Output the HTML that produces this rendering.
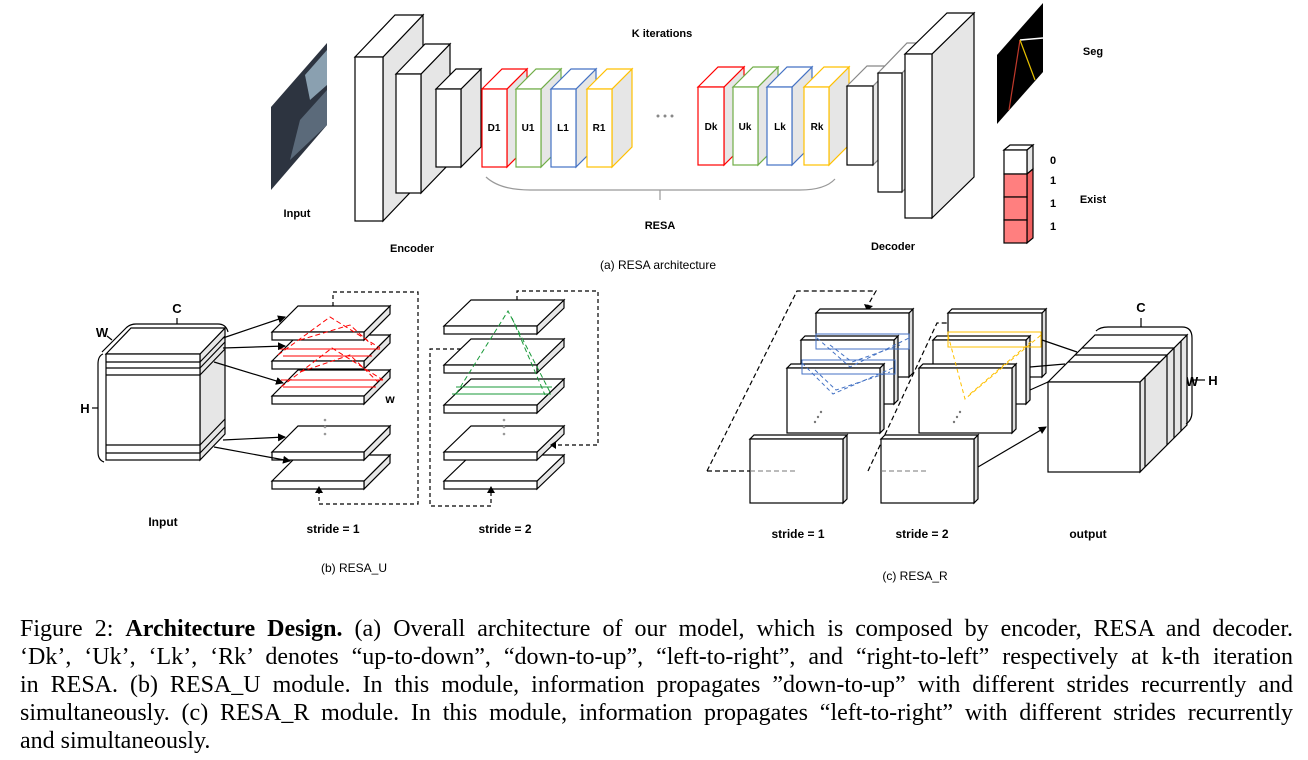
<!DOCTYPE html>
<html><head><meta charset="utf-8"><style>
body{margin:0;background:#fff;}
#w{position:relative;width:1308px;height:760px;overflow:hidden;background:#fff;}
svg{position:absolute;left:0;top:0;}
.cap{position:absolute;left:20px;width:1273px;font-family:"Liberation Serif",serif;font-size:24px;line-height:28px;text-align:justify;text-align-last:justify;white-space:nowrap;}
.cap.l{text-align-last:left;}
</style></head><body><div id="w">
<svg width="1308" height="600" viewBox="0 0 1308 600" font-family="Liberation Sans, sans-serif">
<defs><marker id="a" markerWidth="8" markerHeight="8" refX="7" refY="4" orient="auto" markerUnits="userSpaceOnUse"><path d="M0,0L8,4L0,8z" fill="#000"/></marker></defs>
<g stroke-width="1.2">
<polygon points="271,107 327,43 327,125 271,190" fill="#2d3440"/>
<polygon points="300,120 327,90 327,125 290,160" fill="#5b6a7a"/>
<polygon points="305,75 327,50 327,85 310,100" fill="#8aa0b0"/>
<g stroke="#000" fill="#fff">
<polygon points="383,57 423,15 423,179 383,221" fill="#e6e6e6"/><polygon points="355,57 395,15 423,15 383,57"/><rect x="355" y="57" width="28" height="164"/>
<polygon points="421,74 450,44 450,163 421,193" fill="#e6e6e6"/><polygon points="396,74 425,44 450,44 421,74"/><rect x="396" y="74" width="25" height="119"/>
<polygon points="461,89 481,69 481,147 461,167" fill="#e6e6e6"/><polygon points="436,89 456,69 481,69 461,89"/><rect x="436" y="89" width="25" height="78"/>
</g>
<g fill="#fff">
<g stroke="#f00"><polygon points="507,89 527,69 527,147 507,167" fill="#e6e6e6"/><polygon points="482,89 502,69 527,69 507,89"/><rect x="482" y="89" width="25" height="78"/></g>
<g stroke="#70ad47"><polygon points="541,89 561,69 561,147 541,167" fill="#e6e6e6"/><polygon points="516,89 536,69 561,69 541,89"/><rect x="516" y="89" width="25" height="78"/></g>
<g stroke="#4472c4"><polygon points="576,89 596,69 596,147 576,167" fill="#e6e6e6"/><polygon points="551,89 571,69 596,69 576,89"/><rect x="551" y="89" width="25" height="78"/></g>
<g stroke="#ffc000"><polygon points="612,89 632,69 632,147 612,167" fill="#e6e6e6"/><polygon points="587,89 607,69 632,69 612,89"/><rect x="587" y="89" width="25" height="78"/></g>
<g stroke="#f00"><polygon points="724,87 744,67 744,145 724,165" fill="#e6e6e6"/><polygon points="698,87 718,67 744,67 724,87"/><rect x="698" y="87" width="26" height="78"/></g>
<g stroke="#70ad47"><polygon points="758,87 778,67 778,145 758,165" fill="#e6e6e6"/><polygon points="733,87 753,67 778,67 758,87"/><rect x="733" y="87" width="25" height="78"/></g>
<g stroke="#4472c4"><polygon points="792,87 812,67 812,145 792,165" fill="#e6e6e6"/><polygon points="767,87 787,67 812,67 792,87"/><rect x="767" y="87" width="25" height="78"/></g>
<g stroke="#ffc000"><polygon points="829,87 849,67 849,145 829,165" fill="#e6e6e6"/><polygon points="804,87 824,67 849,67 829,87"/><rect x="804" y="87" width="25" height="78"/></g>
</g>
<g stroke="#000" fill="#fff">
<polygon points="873,86 893,66 893,145 873,165" fill="#e6e6e6" stroke="#888"/><polygon points="847,86 867,66 893,66 873,86" stroke="#888"/><rect x="847" y="86" width="26" height="79"/>
<polygon points="902,73 931,43 931,162 902,192" fill="#e6e6e6" stroke="#888"/><polygon points="878,73 907,43 931,43 902,73" stroke="#888"/><rect x="878" y="73" width="24" height="119"/>
<polygon points="932,54 974,13 974,177 932,218" fill="#e6e6e6"/><polygon points="905,54 947,13 974,13 932,54"/><rect x="905" y="54" width="27" height="164"/>
</g>
<polygon points="997,55 1043,3 1043,72 997,124" fill="#000"/>
<line x1="1020" y1="40" x2="1043" y2="38" stroke="#fff" stroke-width="1.5"/>
<line x1="1020" y1="40" x2="1009" y2="110" stroke="#c0392b"/>
<line x1="1020" y1="40" x2="1035" y2="80" stroke="#e6c000"/>
<g stroke="#000">
<polygon points="1004,150 1010,145 1033,145 1027,150" fill="#fff"/>
<polygon points="1027,150 1033,145 1033,169 1027,174" fill="#e6e6e6"/>
<polygon points="1027,174 1033,169 1033,238 1027,243" fill="#f06060"/>
<rect x="1004" y="150" width="23" height="24" fill="#fff"/>
<rect x="1004" y="174" width="23" height="23" fill="#ff7f7f"/>
<rect x="1004" y="197" width="23" height="23" fill="#ff7f7f"/>
<rect x="1004" y="220" width="23" height="23" fill="#ff7f7f"/>
</g>
<path d="M486,177 Q500,190 530,190 L800,190 Q825,190 835,179" fill="none" stroke="#999"/>
<line x1="660" y1="190" x2="660" y2="200" stroke="#999"/>
<g fill="#888"><circle cx="658" cy="116" r="1.5"/><circle cx="665" cy="116" r="1.5"/><circle cx="672" cy="116" r="1.5"/></g>
</g>
<g font-size="10" font-weight="bold" text-anchor="middle">
<text x="494" y="131">D1</text><text x="528" y="131">U1</text><text x="563" y="131">L1</text><text x="599" y="131">R1</text>
<text x="711" y="130">Dk</text><text x="745" y="130">Uk</text><text x="780" y="130">Lk</text><text x="817" y="130">Rk</text>
</g>
<g font-size="11" font-weight="bold" text-anchor="middle">
<text x="662" y="37">K iterations</text><text x="297" y="217">Input</text><text x="412" y="252">Encoder</text>
<text x="660" y="229">RESA</text><text x="893" y="250">Decoder</text><text x="1093" y="55">Seg</text><text x="1093" y="203">Exist</text>
<text x="1053" y="164">0</text><text x="1053" y="184">1</text><text x="1053" y="207">1</text><text x="1053" y="230">1</text>
</g>
<text x="658" y="269" font-size="12" text-anchor="middle">(a) RESA architecture</text>

<g stroke="#000" stroke-width="1.2" fill="#fff">
<polygon points="200,354 225,328 225,434 200,460" fill="#e6e6e6"/>
<polygon points="106,354 131,328 225,328 200,354"/>
<rect x="106" y="354" width="94" height="106"/>
<g fill="none">
<line x1="106" y1="362" x2="200" y2="362"/><line x1="106" y1="368" x2="200" y2="368"/><line x1="106" y1="375" x2="200" y2="375"/>
<line x1="106" y1="445" x2="200" y2="445"/><line x1="106" y1="453" x2="200" y2="453"/>
<line x1="200" y1="362" x2="225" y2="336"/><line x1="200" y1="368" x2="225" y2="342"/><line x1="200" y1="375" x2="225" y2="349"/>
<line x1="200" y1="445" x2="225" y2="419"/><line x1="200" y1="453" x2="225" y2="427"/>
<path d="M102,352 L126,328 Q130,324 136,324 L218,324 Q226,324 228,332"/>
<line x1="177" y1="324" x2="177" y2="318"/>
<path d="M103,354 Q98,356 98,364 L98,452 Q98,460 104,462"/>
<line x1="98" y1="408" x2="92" y2="408"/>
<line x1="112" y1="340" x2="107" y2="336"/>
</g>
</g>
<g font-size="13" font-weight="bold" text-anchor="middle"><text x="102" y="337">W</text><text x="177" y="313">C</text><text x="85" y="413">H</text><text x="390" y="403" font-size="12">w</text></g>
<g stroke="#000" stroke-width="1.2" fill="#fff">
<polygon points="364,481 390,455 390,463 364,489" fill="#e6e6e6"/><polygon points="272,481 298,455 390,455 364,481"/><rect x="272" y="481" width="92" height="8"/>
<polygon points="364,452 390,426 390,434 364,460" fill="#e6e6e6"/><polygon points="272,452 298,426 390,426 364,452"/><rect x="272" y="452" width="92" height="8"/>
<polygon points="364,396 390,370 390,378 364,404" fill="#e6e6e6"/><polygon points="272,396 298,370 390,370 364,396"/><rect x="272" y="396" width="92" height="8"/>
<polygon points="364,361 390,335 390,343 364,369" fill="#e6e6e6"/><polygon points="272,361 298,335 390,335 364,361"/><rect x="272" y="361" width="92" height="8"/>
<polygon points="364,332 390,306 390,314 364,340" fill="#e6e6e6"/><polygon points="272,332 298,306 390,306 364,332"/><rect x="272" y="332" width="92" height="8"/>
<polygon points="537,481 564,455 564,463 537,489" fill="#e6e6e6"/><polygon points="444,481 471,455 564,455 537,481"/><rect x="444" y="481" width="93" height="8"/>
<polygon points="537,452 564,426 564,434 537,460" fill="#e6e6e6"/><polygon points="444,452 471,426 564,426 537,452"/><rect x="444" y="452" width="93" height="8"/>
<polygon points="537,405 564,379 564,387 537,413" fill="#e6e6e6"/><polygon points="444,405 471,379 564,379 537,405"/><rect x="444" y="405" width="93" height="8"/>
<polygon points="537,365 564,339 564,347 537,373" fill="#e6e6e6"/><polygon points="444,365 471,339 564,339 537,365"/><rect x="444" y="365" width="93" height="8"/>
<polygon points="537,326 564,300 564,308 537,334" fill="#e6e6e6"/><polygon points="444,326 471,300 564,300 537,326"/><rect x="444" y="326" width="93" height="8"/>
</g>
<g stroke="#f00" fill="none" stroke-width="1">
<path d="M278,355 L330,317 L380,348" stroke-dasharray="5,3"/><path d="M300,340 L350,325 L372,345" stroke-dasharray="5,3"/>
<line x1="278" y1="349" x2="380" y2="349"/><line x1="283" y1="356" x2="372" y2="356"/>
<path d="M281,387 L332,348 L383,380" stroke-dasharray="5,3"/><path d="M300,372 L350,355 L378,382" stroke-dasharray="5,3"/>
<line x1="281" y1="380" x2="383" y2="380"/><line x1="283" y1="387" x2="376" y2="387"/>
</g>
<g stroke="#1a9a3a" fill="none" stroke-width="1">
<path d="M456,394 L508,311 L551,394" stroke-dasharray="5,3"/><path d="M512,318 L545,395" stroke-dasharray="5,3"/>
<line x1="456" y1="387" x2="552" y2="387"/><line x1="452" y1="394" x2="551" y2="394"/>
</g>
<g stroke="#000" stroke-width="1.2" fill="none">
<line x1="223" y1="338" x2="285" y2="317" marker-end="url(#a)"/>
<line x1="223" y1="348" x2="285" y2="346" marker-end="url(#a)"/>
<line x1="214" y1="362" x2="283" y2="383" marker-end="url(#a)"/>
<line x1="223" y1="440" x2="285" y2="437" marker-end="url(#a)"/>
<line x1="214" y1="447" x2="290" y2="461" marker-end="url(#a)"/>
<g stroke-dasharray="4,3">
<path d="M333,306 L333,292 L418,292 L418,504 L319,504 L319,493"/>
<path d="M517,300 L517,291 L598,291 L598,445 L556,445"/>
<path d="M461,349 L430,349 L430,506 L491,506 L491,493"/>
</g>
</g>
<g fill="#000"><path d="M315,493 L319,486 L323,493z"/><path d="M487,493 L491,486 L495,493z"/><path d="M556,441 L550,445 L556,449z"/></g>
<g fill="#999"><circle cx="325" cy="420" r="1.3"/><circle cx="325" cy="427" r="1.3"/><circle cx="325" cy="434" r="1.3"/><circle cx="504" cy="420" r="1.3"/><circle cx="504" cy="427" r="1.3"/><circle cx="504" cy="434" r="1.3"/></g>
<g font-size="12" font-weight="bold" text-anchor="middle"><text x="163" y="526">Input</text><text x="333" y="533">stride = 1</text><text x="505" y="533">stride = 2</text>
<text x="798" y="538">stride = 1</text><text x="922" y="538">stride = 2</text><text x="1088" y="538">output</text><text x="1141" y="312" font-size="13">C</text><text x="1213" y="385" font-size="13">H</text><text x="1192" y="386" font-size="13">W</text></g>
<text x="354" y="572" font-size="12" text-anchor="middle">(b) RESA_U</text>
<text x="915" y="580" font-size="12" text-anchor="middle">(c) RESA_R</text>

<g stroke="#000" stroke-width="1.2" fill="none" stroke-dasharray="5,3">
<path d="M707,471 L797,291 L876,291 L868,305"/>
<line x1="707" y1="471" x2="797" y2="471"/>
<path d="M868,471 L937,323 L998,323 L997,328"/>
</g>
<g fill="#000"><path d="M864,304 L867,311 L873,306z"/><path d="M993,328 L997,334 L1001,328z"/></g>
<g stroke="#000" stroke-width="1.2" fill="#fff">
<polygon points="909,313 913,309 913,373 909,377" fill="#ddd"/><polygon points="816,313 820,309 913,309 909,313"/><rect x="816" y="313" width="93" height="64"/>
<polygon points="894,340 898,336 898,400 894,404" fill="#ddd"/><polygon points="801,340 805,336 898,336 894,340"/><rect x="801" y="340" width="93" height="64"/>
<polygon points="880,368 884,364 884,429 880,433" fill="#ddd"/><polygon points="787,368 791,364 884,364 880,368"/><rect x="787" y="368" width="93" height="65"/>
<polygon points="843,439 847,435 847,499 843,503" fill="#ddd"/><polygon points="750,439 754,435 847,435 843,439"/><rect x="750" y="439" width="93" height="64"/>
<polygon points="1042,313 1046,309 1046,373 1042,377" fill="#ddd"/><polygon points="948,313 952,309 1046,309 1042,313"/><rect x="948" y="313" width="94" height="64"/>
<polygon points="1026,340 1030,336 1030,400 1026,404" fill="#ddd"/><polygon points="933,340 937,336 1030,336 1026,340"/><rect x="933" y="340" width="93" height="64"/>
<polygon points="1012,368 1016,364 1016,429 1012,433" fill="#ddd"/><polygon points="919,368 923,364 1016,364 1012,368"/><rect x="919" y="368" width="93" height="65"/>
<polygon points="974,439 978,435 978,499 974,503" fill="#ddd"/><polygon points="881,439 885,435 978,435 974,439"/><rect x="881" y="439" width="93" height="64"/>
</g>
<g stroke="#777" stroke-dasharray="5,3"><line x1="881" y1="471" x2="927" y2="471"/><line x1="750" y1="471" x2="797" y2="471"/></g>
<g fill="none" stroke-width="1">
<g stroke="#4472c4"><rect x="816" y="334" width="93" height="15"/><rect x="802" y="360" width="93" height="14"/>
<path d="M817,338 L850,367 L909,338" stroke-dasharray="4,3"/><path d="M830,345 L852,362 L900,345" stroke-dasharray="4,3"/>
<path d="M802,363 L833,394 L895,367" stroke-dasharray="4,3"/><path d="M815,370 L836,390 L890,372" stroke-dasharray="4,3"/></g>
<g stroke="#ffc000"><rect x="948" y="332" width="93" height="15"/>
<path d="M948,335 L965,399 L1041,335" stroke-dasharray="4,3"/><path d="M970,394 L1033,340" stroke-dasharray="4,3"/></g>
</g>
<g fill="#777"><circle cx="815" cy="422" r="1.2"/><circle cx="818" cy="417" r="1.2"/><circle cx="821" cy="412" r="1.2"/><circle cx="954" cy="422" r="1.2"/><circle cx="957" cy="417" r="1.2"/><circle cx="960" cy="412" r="1.2"/></g>
<g stroke="#000" stroke-width="1.2">
<polygon points="1140,382 1187,335 1187,425 1140,472" fill="#e6e6e6"/>
<polygon points="1048,382 1095,335 1187,335 1140,382" fill="#fff"/>
<rect x="1048" y="382" width="92" height="90" fill="#fff"/>
<g fill="none">
<line x1="1082" y1="348" x2="1174" y2="348"/><line x1="1075" y1="355" x2="1167" y2="355"/><line x1="1068" y1="362" x2="1160" y2="362"/>
<line x1="1167" y1="355" x2="1167" y2="445"/><line x1="1174" y1="348" x2="1174" y2="438"/><line x1="1181" y1="341" x2="1181" y2="431"/><line x1="1145" y1="377" x2="1145" y2="467"/>
<path d="M1096,331 Q1100,327 1108,327 L1182,327 Q1192,327 1192,338 L1192,412 Q1192,420 1186,424"/>
<line x1="1141" y1="327" x2="1141" y2="318"/><line x1="1192" y1="380" x2="1205" y2="380"/>
<line x1="1042" y1="340" x2="1077" y2="352"/><line x1="1030" y1="367" x2="1065" y2="364"/><line x1="1030" y1="390" x2="1048" y2="382"/>
<line x1="978" y1="467" x2="1046" y2="427" marker-end="url(#a)"/>
</g>
</g>
</svg>
<div class="cap" style="top:615px">Figure 2: <b>Architecture Design.</b> (a) Overall architecture of our model, which is composed by encoder, RESA and decoder.</div>
<div class="cap" style="top:643px">‘Dk’, ‘Uk’, ‘Lk’, ‘Rk’ denotes “up-to-down”, “down-to-up”, “left-to-right”, and “right-to-left” respectively at k-th iteration</div>
<div class="cap" style="top:671px">in RESA. (b) RESA_U module. In this module, information propagates ”down-to-up” with different strides recurrently and</div>
<div class="cap" style="top:699px">simultaneously. (c) RESA_R module. In this module, information propagates “left-to-right” with different strides recurrently</div>
<div class="cap l" style="top:727px">and simultaneously.</div>
</div></body></html>
